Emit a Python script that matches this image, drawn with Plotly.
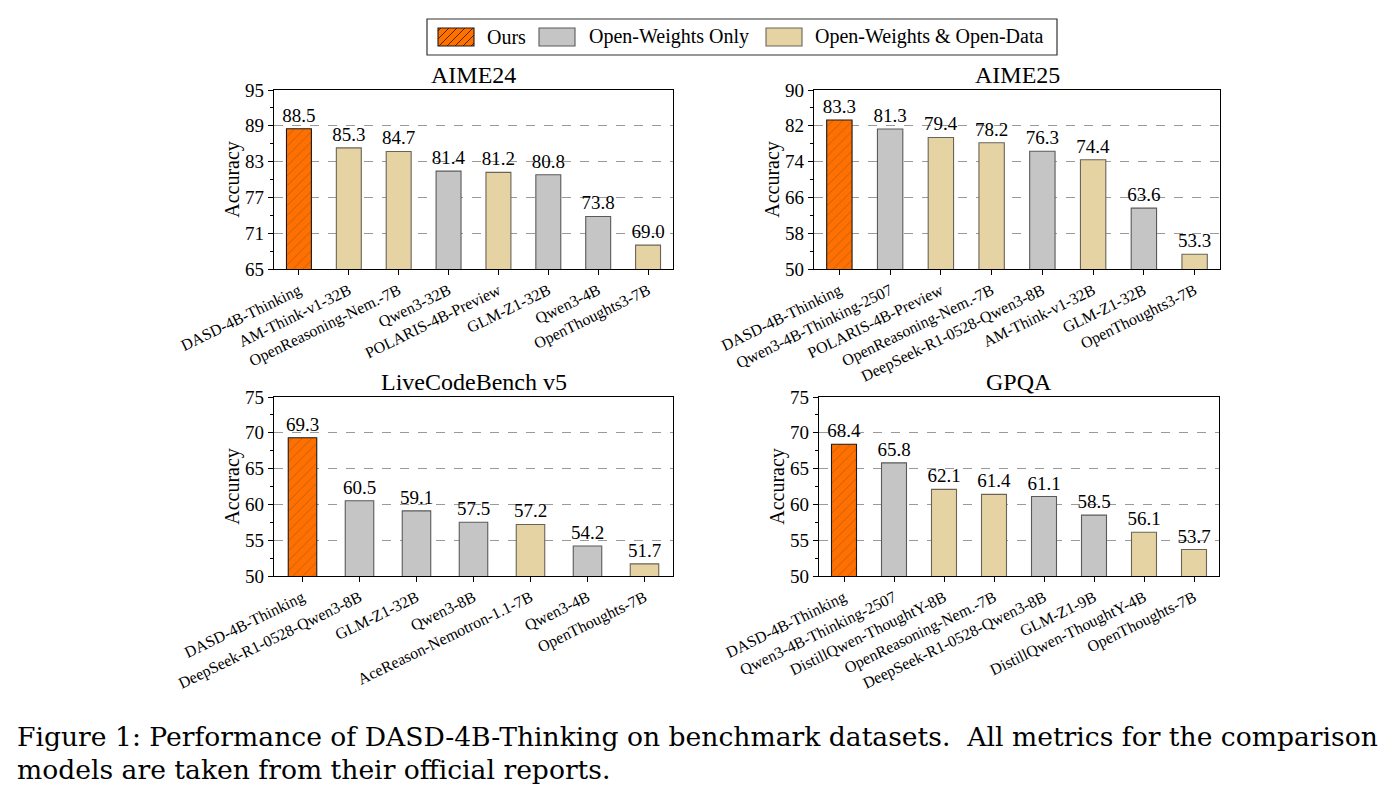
import plotly.graph_objects as go

# ---------------- data ----------------
aime24_models = ["DASD-4B-Thinking", "AM-Think-v1-32B", "OpenReasoning-Nem.-7B", "Qwen3-32B",
                 "POLARIS-4B-Preview", "GLM-Z1-32B", "Qwen3-4B", "OpenThoughts3-7B"]
aime24_scores = [88.5, 85.3, 84.7, 81.4, 81.2, 80.8, 73.8, 69.0]
aime24_types = ["ours", "owod", "owod", "ow", "owod", "ow", "ow", "owod"]

aime25_models = ["DASD-4B-Thinking", "Qwen3-4B-Thinking-2507", "POLARIS-4B-Preview", "OpenReasoning-Nem.-7B",
                 "DeepSeek-R1-0528-Qwen3-8B", "AM-Think-v1-32B", "GLM-Z1-32B", "OpenThoughts3-7B"]
aime25_scores = [83.3, 81.3, 79.4, 78.2, 76.3, 74.4, 63.6, 53.3]
aime25_types = ["ours", "ow", "owod", "owod", "ow", "owod", "ow", "owod"]

lcb_models = ["DASD-4B-Thinking", "DeepSeek-R1-0528-Qwen3-8B", "GLM-Z1-32B", "Qwen3-8B",
              "AceReason-Nemotron-1.1-7B", "Qwen3-4B", "OpenThoughts-7B"]
lcb_scores = [69.3, 60.5, 59.1, 57.5, 57.2, 54.2, 51.7]
lcb_types = ["ours", "ow", "ow", "ow", "owod", "ow", "owod"]

gpqa_models = ["DASD-4B-Thinking", "Qwen3-4B-Thinking-2507", "DistillQwen-ThoughtY-8B", "OpenReasoning-Nem.-7B",
               "DeepSeek-R1-0528-Qwen3-8B", "GLM-Z1-9B", "DistillQwen-ThoughtY-4B", "OpenThoughts-7B"]
gpqa_scores = [68.4, 65.8, 62.1, 61.4, 61.1, 58.5, 56.1, 53.7]
gpqa_types = ["ours", "ow", "owod", "owod", "ow", "ow", "owod", "owod"]

panel_titles = ["AIME24", "AIME25", "LiveCodeBench v5", "GPQA"]
y_ranges = [(65, 95), (50, 90), (50, 75), (50, 75)]
y_dticks = [6, 8, 5, 5]

legend_keys = ["ours", "ow", "owod"]
legend_names = {"ours": "Ours", "ow": "Open-Weights Only", "owod": "Open-Weights & Open-Data"}

caption_lines = ["Figure 1: Performance of DASD-4B-Thinking on benchmark datasets.  All metrics for the comparison",
                 "models are taken from their official reports."]

# ---------------- style ----------------
W, H = 1392, 802
FONT = "Liberation Serif"
CAP_FONT = "DejaVu Serif"
fill = {"ours": "#FF7000", "ow": "#C5C5C5", "owod": "#E6D3A3"}
edge = {"ours": "#1a1a1a", "ow": "#5a5a5a", "owod": "#6a6458"}
hatch = {"ours": "/", "ow": "", "owod": ""}
HATCH_COLOR = "#2a1500"


def px(x):
    return x / W


def py(y):
    return 1 - y / H


# pixel boxes (left, right, top, bottom)
boxes = [(274, 673, 90, 269), (814, 1220, 90, 269), (274, 673, 397, 576), (819, 1219, 397, 576)]

panels = [(aime24_models, aime24_scores, aime24_types),
          (aime25_models, aime25_scores, aime25_types),
          (lcb_models, lcb_scores, lcb_types),
          (gpqa_models, gpqa_scores, gpqa_types)]

fig = go.Figure()
layout = {}
annotations = []
shapes = []

for i, ((models, scores, types), (l, r, t, b)) in enumerate(zip(panels, boxes)):
    idx = "" if i == 0 else str(i + 1)
    xa, ya = "x" + idx, "y" + idx
    fig.add_trace(go.Bar(
        x=models, y=scores, xaxis=xa, yaxis=ya, width=0.5, showlegend=False,
        marker=dict(color=[fill[k] for k in types],
                    line=dict(color=[edge[k] for k in types], width=1.1),
                    pattern=dict(shape=[hatch[k] for k in types], fgcolor=HATCH_COLOR,
                                 size=7, solidity=0.1)),
        text=[f"{v:.1f}" for v in scores], textposition="outside", constraintext="none",
        textfont=dict(family=FONT, size=19, color="black"), cliponaxis=False,
        hoverinfo="skip"))
    lo, hi = y_ranges[i]
    layout["xaxis" + idx] = dict(
        domain=[px(l), px(r)], anchor=ya, range=[-0.5, len(models) - 0.5], automargin=False,
        showline=True, linecolor="black", linewidth=1.4, mirror=True,
        ticks="outside", ticklen=5, tickcolor="black", tickangle=-26,
        tickfont=dict(family=FONT, size=16, color="black"), showgrid=False, fixedrange=True)
    layout["yaxis" + idx] = dict(
        domain=[py(b), py(t)], anchor=xa, range=[lo, hi], tick0=lo, dtick=y_dticks[i],
        automargin=False,
        showline=True, linecolor="black", linewidth=1.4, mirror=True,
        ticks="outside", ticklen=5, tickcolor="black",
        minor=dict(ticks="outside", ticklen=3, tickcolor="black", dtick=y_dticks[i] / 2,
                   tick0=lo, showgrid=False),
        showgrid=True, gridcolor="#9a9a9a", griddash="dash", gridwidth=1,
        tickfont=dict(family=FONT, size=19, color="black"),
        title=dict(text="Accuracy", font=dict(family=FONT, size=20, color="black"), standoff=0),
        zeroline=False, fixedrange=True)
    annotations.append(dict(
        text=panel_titles[i], x=px((l + r) / 2), y=py(t), xref="paper", yref="paper",
        xanchor="center", yanchor="bottom", yshift=0, showarrow=False,
        font=dict(family=FONT, size=24, color="black")))

# ---------------- legend (drawn) ----------------
LEG_BOX = (427, 1057, 19, 55)
SW_Y = (28, 46)
SW_X = [(438, 474), (539, 575), (766, 802)]
TXT_X = [485, 587, 813]
shapes.append(dict(type="rect", xref="paper", yref="paper", x0=px(LEG_BOX[0]), x1=px(LEG_BOX[1]),
                   y0=py(LEG_BOX[3]), y1=py(LEG_BOX[2]), line=dict(color="#333", width=1.2),
                   fillcolor="white", layer="above"))
for k, (sx0, sx1), tx in zip(legend_keys, SW_X, TXT_X):
    shapes.append(dict(type="rect", xref="paper", yref="paper", x0=px(sx0), x1=px(sx1),
                       y0=py(SW_Y[1]), y1=py(SW_Y[0]), line=dict(color=edge[k], width=1.1),
                       fillcolor=fill[k], layer="above"))
    if hatch[k]:
        segs = []
        y0, y1 = SW_Y
        c = sx0 + y0 + 3
        while c < sx1 + y1:
            xa_ = max(sx0, c - y1)
            xb_ = min(sx1, c - y0)
            if xb_ > xa_:
                segs.append(f"M{px(xa_):.5f},{py(c - xa_):.5f} L{px(xb_):.5f},{py(c - xb_):.5f}")
            c += 8
        shapes.append(dict(type="path", xref="paper", yref="paper", path=" ".join(segs),
                           line=dict(color=HATCH_COLOR, width=0.8), layer="above"))
    annotations.append(dict(text=legend_names[k], x=px(tx), y=py(37), xref="paper", yref="paper",
                            xanchor="left", yanchor="middle", showarrow=False,
                            font=dict(family=FONT, size=20, color="black")))

# ---------------- caption ----------------
for line, yc in zip(caption_lines, [736, 769]):
    annotations.append(dict(
        text=line, x=px(15), y=py(yc), xref="paper", yref="paper",
        xanchor="left", yanchor="middle", align="left", showarrow=False,
        font=dict(family=CAP_FONT, size=26.6, color="black")))

fig.update_layout(
    width=W, height=H, margin=dict(l=0, r=0, t=0, b=0, autoexpand=False),
    paper_bgcolor="white", plot_bgcolor="white",
    barmode="overlay", bargap=0.5, showlegend=False,
    font=dict(family=FONT, color="black"),
    annotations=annotations, shapes=shapes,
    **layout)

fig.write_html("out.html")
